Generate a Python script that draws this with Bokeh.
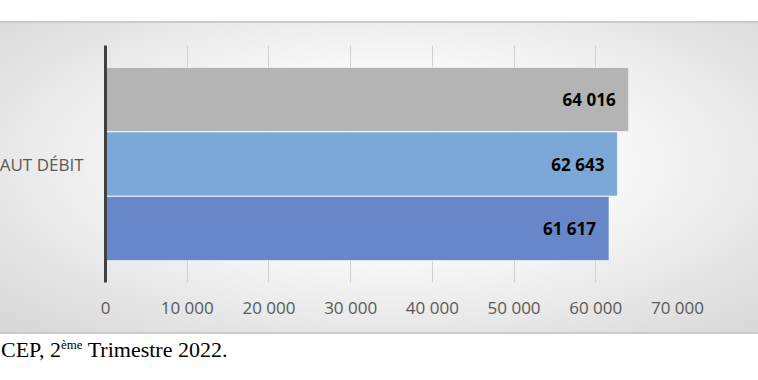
from bokeh.plotting import figure
from bokeh.models import ColumnDataSource, FactorRange, Range1d, FixedTicker, Div
from bokeh.transform import dodge
from bokeh.layouts import column
from bokeh.core.properties import value
from bokeh.embed import file_html
from bokeh.resources import INLINE

# ---- data ----
categories = ["AUT DÉBIT"]
series = ["Série 1", "Série 2", "Série 3"]
values = [64016, 62643, 61617]
colors = ["#b4b4b4", "#7ca8d8", "#6787c9"]
x_ticks = [0, 10000, 20000, 30000, 40000, 50000, 60000, 70000]
x_tick_labels = ["0", "10 000", "20 000", "30 000", "40 000", "50 000", "60 000", "70 000"]
source_text = "CEP, 2<sup style='font-size:13px'>ème</sup> Trimestre 2022."

FONT = "Open Sans"
SHIFT = 10  # figure extends this far past the left edge of the window

p = figure(width=758 + SHIFT, height=313,
           y_range=FactorRange(*categories),
           x_range=Range1d(0, 70000),
           output_backend="svg", toolbar_location=None,
           min_border_left=105 + SHIFT, min_border_right=81,
           min_border_top=24, min_border_bottom=52)

p.background_fill_color = None
p.border_fill_color = None
p.outline_line_color = None
p.styles = {
    "background": "radial-gradient(ellipse farthest-corner at 52% 45%, #ffffff 28%, #d5d5d5 100%)",
    "box-shadow": "inset 0 2px 0 #cbcbcb, inset 0 -2px 0 #cbcbcb",
}

bar_h = 0.27
step = 0.272
for i, (s, v, c) in enumerate(zip(series, values, colors)):
    off = (1 - i) * step
    src = ColumnDataSource(dict(cat=[categories[0]], value=[v],
                                label=[f"{v:,}".replace(",", " ")]))
    p.hbar(y=dodge("cat", off, range=p.y_range), right="value", left=0,
           height=bar_h, source=src, fill_color=c, fill_alpha=1.0,
           line_color="#ffffff", line_alpha=0.55, line_width=1)
    p.text(x="value", y=dodge("cat", off, range=p.y_range), text="label",
           source=src, x_offset=-13, text_align="right", text_baseline="middle",
           text_font=value(FONT), text_font_style="bold",
           text_font_size="17px", text_color="#000000")

# axes
p.xaxis.ticker = FixedTicker(ticks=x_ticks)
p.xaxis.major_label_overrides = {t: l for t, l in zip(x_ticks, x_tick_labels)}
p.xaxis.axis_line_color = None
p.xaxis.major_tick_line_color = None
p.xaxis.minor_tick_line_color = None
p.xaxis.major_label_standoff = 7
p.xaxis.major_label_text_font = FONT
p.xaxis.major_label_text_font_size = "17px"
p.xaxis.major_label_text_color = "#595959"

p.yaxis.axis_line_color = "#404040"
p.yaxis.axis_line_width = 3
p.yaxis.major_tick_line_color = None
p.yaxis.minor_tick_line_color = None
p.yaxis.major_label_standoff = 16
p.yaxis.major_label_text_font = FONT
p.yaxis.major_label_text_font_size = "17px"
p.yaxis.major_label_text_color = "#595959"

p.ygrid.grid_line_color = None
p.xgrid.grid_line_color = "#d0d0d0"
p.xgrid.grid_line_width = 1

div = Div(text=source_text, width=758, margin=(0, 0, 0, 0),
          styles={"font-family": "'Liberation Serif', 'Times New Roman', serif",
                  "font-size": "22px", "color": "#000000", "padding-top": "3px",
                  "padding-left": f"{SHIFT + 1}px", "line-height": "1.15"})

layout = column(p, div, margin=(21, 0, 0, -SHIFT))

open("out.html", "w").write(file_html(layout, INLINE))
